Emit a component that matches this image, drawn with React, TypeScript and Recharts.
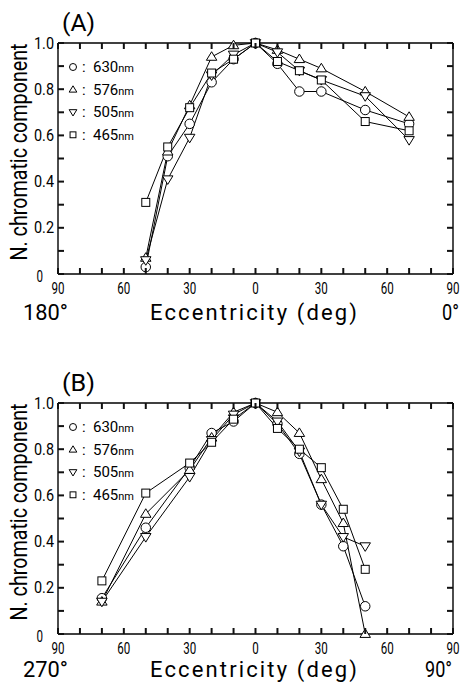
import React from "react";
import { Line, LineChart, XAxis, YAxis } from "recharts";

const FONT = "Roboto, 'DejaVu Sans', sans-serif";

// legend names and marker kinds, same order as the series arrays
const wavelengths = ["630", "576", "505", "465"];
const markerKinds = ["circle", "up", "down", "square"];

// (A) horizontal meridian, negative = 180° side
const eccA = [-50, -40, -30, -20, -10, 0, 10, 20, 30, 50, 70];
const a630 = [0.03, 0.51, 0.65, 0.83, 0.93, 1.0, 0.91, 0.79, 0.79, 0.71, 0.65];
const a576 = [0.07, 0.53, 0.73, 0.94, 0.99, 1.0, 0.97, 0.93, 0.89, 0.79, 0.68];
const a505 = [0.06, 0.41, 0.59, 0.86, 0.95, 1.0, 0.96, 0.88, 0.84, 0.77, 0.58];
const a465 = [0.31, 0.55, 0.72, 0.87, 0.93, 1.0, 0.92, 0.88, 0.84, 0.66, 0.62];

// (B) vertical meridian, negative = 270° side
const eccB = [-70, -50, -30, -20, -10, 0, 10, 20, 30, 40, 50];
const b630 = [0.155, 0.46, 0.72, 0.87, 0.92, 1.0, 0.91, 0.78, 0.56, 0.38, 0.12];
const b576 = [0.14, 0.52, 0.71, 0.85, 0.96, 1.0, 0.96, 0.87, 0.67, 0.48, 0.0];
const b505 = [0.14, 0.42, 0.68, 0.84, 0.95, 1.0, 0.92, 0.79, 0.56, 0.42, 0.38];
const b465 = [0.23, 0.61, 0.74, 0.83, 0.93, 1.0, 0.89, 0.8, 0.72, 0.54, 0.28];

const xTicks = [-90, -80, -70, -60, -50, -40, -30, -20, -10, 0, 10, 20, 30, 40, 50, 60, 70, 80, 90];
const yTicks = [0, 0.1, 0.2, 0.3, 0.4, 0.5, 0.6, 0.7, 0.8, 0.9, 1.0];

// plot box inside each 462x360 panel (set by axis sizes below)
const BOX = { left: 58, right: 453, top: 43, bottom: 274 };
const TICK = 6;

function Marker({ kind, cx, cy, s }: { kind: string; cx: number; cy: number; s: number }) {
  const st = { fill: "#fff", stroke: "#000", strokeWidth: 1 };
  if (kind === "circle") return <circle cx={cx} cy={cy} r={s / 2} {...st} />;
  if (kind === "square") return <rect x={cx - s * 0.42} y={cy - s * 0.42} width={s * 0.84} height={s * 0.84} {...st} />;
  const w = s * 1.1;
  const h = s * 0.9;
  const d =
    kind === "up"
      ? `M${cx},${cy - h * 0.6}L${cx + w / 2},${cy + h * 0.4}L${cx - w / 2},${cy + h * 0.4}Z`
      : `M${cx},${cy + h * 0.6}L${cx + w / 2},${cy - h * 0.4}L${cx - w / 2},${cy - h * 0.4}Z`;
  return <path d={d} {...st} />;
}

// x ticks: inward marks on bottom (at the axis) and top edge, label every 30
function XTick(p: any) {
  const v = p.payload.value;
  const x = p.x;
  const label = String(Math.abs(v));
  return (
    <g>
      <path d={`M${x},${p.y}V${p.y - TICK}`} stroke="#111" strokeWidth={2} fill="none" />
      <path d={`M${x},${BOX.top}V${BOX.top + TICK}`} stroke="#111" strokeWidth={2} fill="none" />
      {Math.round(v) % 30 === 0 && (
        <text
          x={x}
          y={p.y + 14}
          dy="0.35em"
          textAnchor="middle"
          fontFamily={FONT}
          fontSize={16}
          textLength={label.length > 1 ? 13 : 6.5}
          lengthAdjust="spacingAndGlyphs"
          fill="#000"
        >
          {label}
        </text>
      )}
    </g>
  );
}

// y ticks: inward marks on left (at the axis) and right edge, label every 0.2
function YTick(p: any) {
  const v = p.payload.value;
  const y = p.y;
  const k = Math.round(v * 10);
  const zero = k === 0;
  const label = zero ? "0" : v.toFixed(1);
  return (
    <g>
      <path d={`M${p.x},${y}H${p.x + TICK}`} stroke="#111" strokeWidth={2} fill="none" />
      <path d={`M${BOX.right},${y}H${BOX.right - TICK}`} stroke="#111" strokeWidth={2} fill="none" />
      {k % 2 === 0 && (
        <text
          x={zero ? p.x - 15 : p.x - 4}
          y={zero ? y + 2 : y}
          dy="0.35em"
          textAnchor="end"
          fontFamily={FONT}
          fontSize={16}
          textLength={zero ? 6.5 : 20}
          lengthAdjust="spacingAndGlyphs"
          fill="#000"
        >
          {label}
        </text>
      )}
    </g>
  );
}

const axisLine = { stroke: "#000", strokeWidth: 1.4 };

function Panel({
  tag,
  leftEnd,
  rightEnd,
  rightEndX,
  rightEndLen,
  bottomY,
  ecc,
  series,
}: {
  tag: string;
  leftEnd: string;
  rightEnd: string;
  rightEndX: number;
  rightEndLen: number;
  bottomY: number;
  ecc: number[];
  series: number[][];
}) {
  const data = ecc.map((x, i) => {
    const row: Record<string, number> = { x };
    series.forEach((s, k) => (row["w" + k] = s[i]));
    return row;
  });

  const common = { tickSize: 0, tickMargin: 0, tickLine: false, axisLine, interval: 0 as const };

  return (
    <div style={{ position: "relative", width: 462, height: 360 }}>
      <LineChart width={462} height={360} data={data} margin={{ top: 0, right: 0, bottom: 0, left: 0 }}>
        <XAxis xAxisId="b" dataKey="x" type="number" domain={[-90, 90]} ticks={xTicks} height={86} tick={XTick} {...common} />
        <XAxis xAxisId="t" orientation="top" type="number" domain={[-90, 90]} ticks={xTicks} height={43} tick={false} {...common} />
        <YAxis yAxisId="l" type="number" domain={[0, 1]} ticks={yTicks} width={58} tick={YTick} {...common} />
        <YAxis yAxisId="r" orientation="right" type="number" domain={[0, 1]} ticks={yTicks} width={9} tick={false} {...common} />
        {series.map((_, k) => (
          <Line
            key={k}
            xAxisId="b"
            yAxisId="l"
            dataKey={"w" + k}
            stroke="#000"
            strokeWidth={1}
            isAnimationActive={false}
            dot={(p: any) => <Marker key={`${k}-${p.index}`} kind={markerKinds[k]} cx={p.cx} cy={p.cy} s={9.5} />}
          />
        ))}
      </LineChart>
      <svg
        width={462}
        height={360}
        style={{ position: "absolute", left: 0, top: 0, pointerEvents: "none" }}
        fontFamily={FONT}
      >
        <text x={62} y={31} fontSize={24} textLength={33} lengthAdjust="spacingAndGlyphs" fill="#000">
          {tag}
        </text>
        <text
          transform="translate(27,152) rotate(-90)"
          textAnchor="middle"
          fontSize={23}
          textLength={217}
          lengthAdjust="spacingAndGlyphs"
          fill="#000"
        >
          N. chromatic component
        </text>
        <text x={150} y={bottomY} fontSize={22} textLength={207} fill="#000">
          Eccentricity (deg)
        </text>
        <text x={23} y={bottomY} fontSize={22} textLength={45} lengthAdjust="spacingAndGlyphs" fill="#000">
          {leftEnd}
        </text>
        <text
          x={rightEndX}
          y={bottomY}
          fontSize={22}
          textAnchor="end"
          textLength={rightEndLen}
          lengthAdjust="spacingAndGlyphs"
          fill="#000"
        >
          {rightEnd}
        </text>
        {wavelengths.map((w, k) => {
          const y = 67 + k * 22.6;
          return (
            <g key={w}>
              <Marker kind={markerKinds[k]} cx={73} cy={y} s={7} />
              <text x={82} y={y} dy="0.35em" fontSize={15} fill="#000">
                :
              </text>
              <text x={93} y={y} dy="0.35em" fontSize={15} fill="#000">
                {w}
                <tspan fontSize={11}>nm</tspan>
              </text>
            </g>
          );
        })}
      </svg>
    </div>
  );
}

export default function App() {
  return (
    <div style={{ position: "absolute", left: 0, top: 0, width: 462, height: 683, background: "#fff" }}>
      <Panel
        tag="(A)"
        leftEnd="180°"
        rightEnd="0°"
        rightEndX={459}
        rightEndLen={17}
        bottomY={320}
        ecc={eccA}
        series={[a630, a576, a505, a465]}
      />
      <Panel
        tag="(B)"
        leftEnd="270°"
        rightEnd="90°"
        rightEndX={452}
        rightEndLen={27}
        bottomY={317}
        ecc={eccB}
        series={[b630, b576, b505, b465]}
      />
    </div>
  );
}
